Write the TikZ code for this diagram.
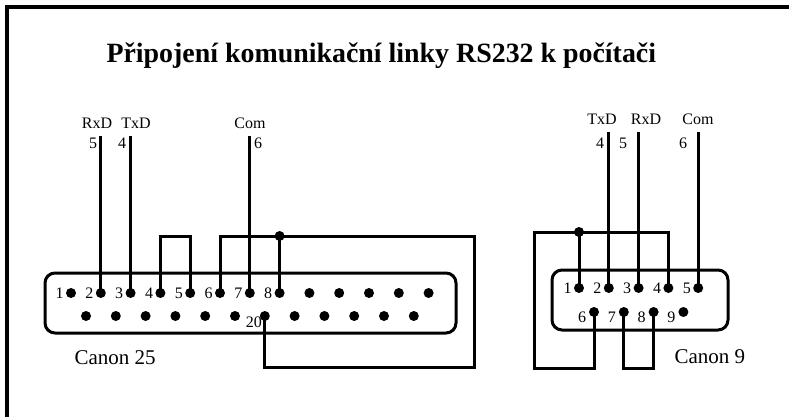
\documentclass[tikz,border=0pt]{standalone}
\usepackage{fontspec}
\setmainfont{Liberation Serif}
\usetikzlibrary{positioning}

\tikzset{
  pin/.style={circle,fill,inner sep=0pt,minimum size=10pt},
  pinlabel/.style={font=\fontsize{16}{17}\selectfont,inner sep=0pt},
  wire/.style={line width=3pt},
  shell/.style={draw,line width=3pt,rounded corners=10pt,inner sep=0pt},
}

\begin{document}
\begin{tikzpicture}[x=1pt,y=-1pt]
\useasboundingbox (0,0) rectangle (789,417);
% frame
\draw[line width=3.2pt] (7,417) -- (7,7) -- (789,7);
\node (title)[anchor=base west,font=\fontsize{27.9}{30}\selectfont\bfseries] at (103,63)
  {Připojení komunikační linky RS232 k počítači};

% Canon 25
\node (shell25)[shell,minimum width=411pt,minimum height=60pt] at (250.5,303) {};
\foreach \i in {1,...,13}
  \node (a\i)[pin] at ({71+(\i-1)*29.8},293) {};
\foreach \i in {14,...,25}
  \node (a\i)[pin] at ({86+(\i-14)*29.8},316) {};
\foreach \i in {1,...,8}
  \node[pinlabel,left=2pt of a\i] {\i};
\node (l20)[pinlabel] at ([xshift=-11pt,yshift=-6pt]a20) {20};
\node (canon25)[anchor=west,font=\fontsize{21}{23}\selectfont] at (71,358) {Canon 25};

% signals of Canon 25
\coordinate (t2) at (a2 |- 0,136);
\coordinate (t3) at (a3 |- 0,136);
\coordinate (t7) at (a7 |- 0,136);
\node (rxd25)[pinlabel] at (97,123) {RxD};
\node (txd25)[pinlabel] at (136,123) {TxD};
\node (com25)[pinlabel] at (250,123) {Com};
\node[pinlabel] at (93,143) {5};
\node[pinlabel] at (122,143) {4};
\node[pinlabel] at (258,143) {6};
\draw[wire] (a2.center) -- (t2);
\draw[wire] (a3.center) -- (t3);
\draw[wire] (a7.center) -- (t7);

% loops of Canon 25
\node (j25)[pin] at (a8 |- 0,236) {};
\coordinate (c25) at (474,367);
\draw[wire] (a4.center) -- (a4 |- j25) -| (a5.center);
\draw[wire] (a6.center) |- (j25.center) -| (c25) -| (a20.center);
\draw[wire] (a8.center) -- (j25.center);

% Canon 9
\node (shell9)[shell,minimum width=176pt,minimum height=60pt] at (640,300) {};
\foreach \i in {1,...,5}
  \node (b\i)[pin] at ({579+(\i-1)*29.8},288) {};
\foreach \i in {6,...,9}
  \node (b\i)[pin] at ({594+(\i-6)*29.8},312) {};
\foreach \i in {1,...,5}
  \node[pinlabel,left=2pt of b\i] {\i};
\foreach \i in {6,...,9}
  \node[pinlabel] at ([xshift=-12pt,yshift=-5pt]b\i) {\i};
\node (canon9)[anchor=west,font=\fontsize{21}{23}\selectfont] at (671,357) {Canon 9};

% signals of Canon 9
\coordinate (u2) at (b2 |- 0,132);
\coordinate (u3) at (b3 |- 0,132);
\coordinate (u5) at (b5 |- 0,132);
\node (txd9)[pinlabel] at (602,119) {TxD};
\node (rxd9)[pinlabel] at (646,119) {RxD};
\node (com9)[pinlabel] at (698,119) {Com};
\node[pinlabel] at (600,143) {4};
\node[pinlabel] at (623,143) {5};
\node[pinlabel] at (683,143) {6};
\draw[wire] (b2.center) -- (u2);
\draw[wire] (b3.center) -- (u3);
\draw[wire] (b5.center) -- (u5);

% loops of Canon 9
\node (j9)[pin] at (b1 |- 0,232) {};
\coordinate (c9) at (534,368);
\draw[wire] (b4.center) |- (j9.center) -| (c9) -| (b6.center);
\draw[wire] (b1.center) -- (j9.center);
\draw[wire] (b7.center) -- (b7 |- c9) -| (b8.center);
\end{tikzpicture}
\end{document}
